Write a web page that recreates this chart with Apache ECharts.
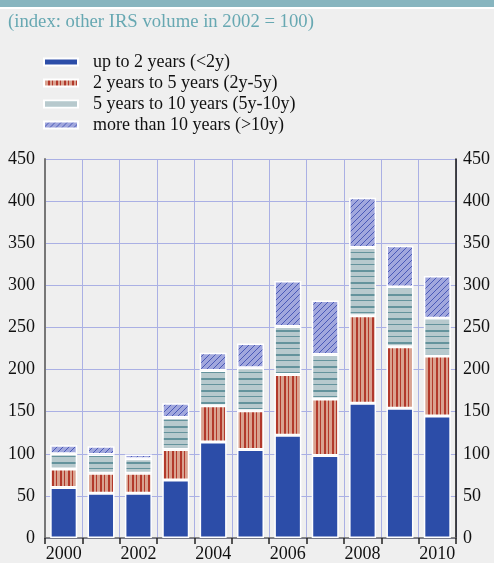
<!DOCTYPE html>
<html>
<head>
    <meta charset="UTF-8"/>
    <title>IRS volume by maturity</title>
    <style>
        html, body { margin: 0; padding: 0; background: #efefef; }
        #chart { width: 494px; height: 563px; }
    </style>
</head>
<body>
<div id="chart"></div>
<script src="https://cdn.jsdelivr.net/npm/echarts@6/dist/echarts.min.js"></script>
<script>
    // data
    var years = ['2000', '2001', '2002', '2003', '2004', '2005', '2006', '2007', '2008', '2009', '2010'];
    var upTo2 = [60, 53, 53, 69, 114, 105, 122, 98, 160, 154, 145];
    var y2to5 = [22, 24, 24, 36, 43, 46, 72, 67, 104, 73, 71];
    var y5to10 = [18, 22, 17, 38, 42, 51, 57, 53, 81, 71, 45];
    var over10 = [10, 10, 5, 17, 21, 29, 54, 64, 59, 49, 50];
    var seriesNames = ['up to 2 years (<2y)', '2 years to 5 years (2y-5y)', '5 years to 10 years (5y-10y)', 'more than 10 years (>10y)'];

    var serif = "'Liberation Serif', 'Times New Roman', serif";

    // small tiles used as fill patterns
    function tile(w, h, draw) {
        var c = document.createElement('canvas');
        c.width = w;
        c.height = h;
        draw(c.getContext('2d'));
        return {image: c, repeat: 'repeat'};
    }

    var redFill = tile(8, 8, function (g) {
        g.fillStyle = '#d9a290';
        g.fillRect(0, 0, 8, 8);
        g.fillStyle = '#b2392b';
        g.fillRect(0, 0, 1, 8);
        g.fillRect(4, 0, 2, 8);
    });
    var tealFill = tile(8, 12, function (g) {
        g.fillStyle = '#b7c9cd';
        g.fillRect(0, 0, 8, 12);
        g.fillStyle = '#64939c';
        g.fillRect(0, 0, 8, 1);
        g.fillRect(0, 6, 8, 2);
    });
    var hatchFill = tile(6, 6, function (g) {
        g.fillStyle = '#a1a7dd';
        g.fillRect(0, 0, 6, 6);
        g.strokeStyle = '#4a5ab8';
        g.lineWidth = 1;
        g.beginPath();
        g.moveTo(-1, 7);
        g.lineTo(7, -1);
        g.stroke();
    });

    var fills = ['#2c4da8', redFill, tealFill, hatchFill];
    var values = [upTo2, y2to5, y5to10, over10];

    var chart = echarts.init(document.getElementById('chart'));

    var option = {
        backgroundColor: '#efefef',
        animation: false,
        textStyle: {fontFamily: serif},
        title: {
            text: '(index: other IRS volume in 2002 = 100)',
            left: 8,
            top: 13,
            padding: 0,
            textStyle: {fontFamily: serif, fontSize: 18.7, fontWeight: 'normal', color: '#67a8b2'}
        },
        graphic: [
            {type: 'rect', left: 0, top: 0, shape: {width: 494, height: 7}, style: {fill: '#87b5bf'}},
            {type: 'rect', left: 0, top: 7, shape: {width: 494, height: 2}, style: {fill: '#ffffff'}}
        ],
        legend: {
            orient: 'vertical',
            left: 43,
            top: 53,
            padding: 0,
            itemGap: 3,
            itemWidth: 34,
            itemHeight: 7,
            icon: 'rect',
            data: seriesNames,
            textStyle: {fontFamily: serif, fontSize: 18, color: '#111', padding: [0, 0, 0, 10]}
        },
        grid: {left: 45, right: 38, top: 159, bottom: 25},
        xAxis: {
            type: 'category',
            data: years,
            axisLine: {lineStyle: {color: '#666', width: 1.5}},
            axisTick: {show: true, interval: 0, length: 6, lineStyle: {color: '#222', width: 1.5}},
            axisLabel: {interval: 1, fontFamily: serif, fontSize: 18, color: '#111', margin: 7},
            splitLine: {show: true, interval: 0, lineStyle: {color: '#aab0e4', width: 1}}
        },
        yAxis: [
            {
                type: 'value',
                min: 0,
                max: 450,
                interval: 50,
                position: 'left',
                axisLine: {show: true, lineStyle: {color: '#777', width: 2}},
                axisTick: {show: false},
                axisLabel: {fontFamily: serif, fontSize: 18, color: '#111', margin: 10},
                splitLine: {show: true, lineStyle: {color: '#aab0e4', width: 1}}
            },
            {
                type: 'value',
                min: 0,
                max: 450,
                interval: 50,
                position: 'right',
                axisLine: {show: true, lineStyle: {color: '#111', width: 1.5}},
                axisTick: {show: false},
                axisLabel: {fontFamily: serif, fontSize: 18, color: '#111', margin: 7},
                splitLine: {show: false}
            }
        ],
        series: seriesNames.map(function (name, i) {
            return {
                name: name,
                type: 'bar',
                stack: 'total',
                barWidth: 27,
                itemStyle: {color: fills[i], borderColor: '#ffffff', borderWidth: 1.5},
                data: values[i]
            };
        })
    };

    chart.setOption(option);
</script>
</body>
</html>
